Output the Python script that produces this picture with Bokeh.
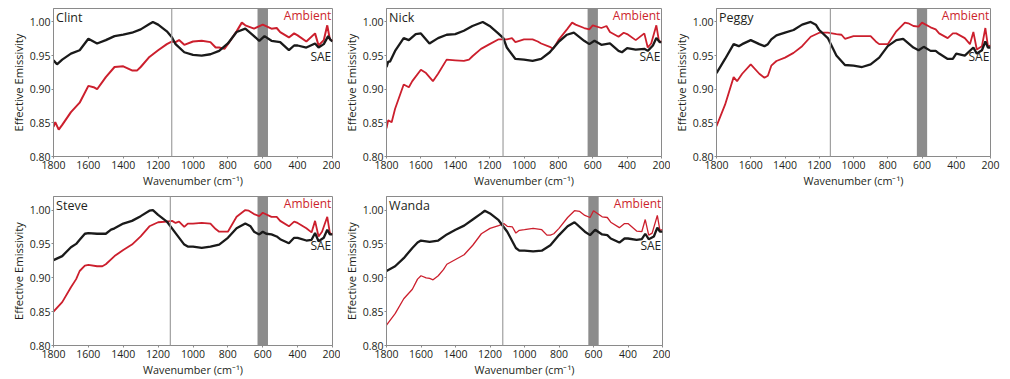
from bokeh.plotting import figure
from bokeh.layouts import column, row
from bokeh.models import Range1d, FixedTicker, NumeralTickFormatter, Span, Label
from bokeh.embed import file_html
from bokeh.resources import INLINE

NAMES = ["Clint", "Nick", "Peggy", "Steve", "Wanda"]
X_TICKS = [1800, 1600, 1400, 1200, 1000, 800, 600, 400, 200]
Y_TICKS = [0.80, 0.85, 0.90, 0.95, 1.00]
BAND = [570, 630]
VLINE = [1122, 1122, 1135, 1130, 1126]

clint_sae_wn = [1800,1780,1750,1700,1650,1600,1550,1500,1450,1400,1350,1300,1250,1230,1200,1150,1120,1100,1050,1000,950,900,850,800,750,700,650,620,590,550,500,450,420,400,350,300,280,250,225,210,200]
clint_sae = [0.943,0.937,0.944,0.953,0.958,0.975,0.968,0.973,0.979,0.981,0.984,0.989,0.997,1.000,0.996,0.986,0.977,0.967,0.955,0.951,0.950,0.952,0.957,0.968,0.985,0.990,0.979,0.972,0.979,0.972,0.970,0.958,0.965,0.965,0.962,0.968,0.962,0.967,0.979,0.973,0.971]
clint_amb_wn = [1800,1790,1770,1750,1700,1650,1600,1570,1550,1500,1450,1400,1350,1320,1300,1250,1200,1150,1120,1100,1080,1050,1000,950,900,870,850,820,800,750,720,700,650,600,550,520,500,450,420,400,350,300,280,250,230,215,200]
clint_amb = [0.844,0.851,0.840,0.847,0.866,0.880,0.905,0.903,0.900,0.918,0.933,0.934,0.928,0.928,0.933,0.948,0.958,0.967,0.971,0.970,0.973,0.966,0.971,0.972,0.970,0.962,0.962,0.960,0.967,0.986,0.999,0.995,0.990,0.996,0.990,0.991,0.985,0.977,0.983,0.980,0.971,0.983,0.965,0.973,0.995,0.974,0.972]

nick_sae_wn = [1800,1790,1780,1750,1700,1670,1630,1600,1550,1500,1450,1400,1350,1300,1240,1200,1150,1120,1100,1050,1000,950,900,850,800,750,710,650,620,590,550,500,450,430,400,350,300,280,250,230,210,200]
nick_sae = [0.933,0.941,0.941,0.957,0.976,0.973,0.982,0.983,0.968,0.976,0.981,0.982,0.987,0.994,1.000,0.994,0.983,0.976,0.962,0.945,0.944,0.942,0.945,0.955,0.970,0.981,0.984,0.972,0.967,0.972,0.966,0.968,0.957,0.955,0.961,0.959,0.960,0.957,0.965,0.976,0.970,0.970]
nick_amb_wn = [1800,1790,1770,1750,1700,1670,1650,1600,1570,1530,1500,1450,1400,1350,1320,1300,1250,1200,1150,1100,1070,1050,1000,950,920,900,850,830,800,750,720,700,650,620,600,550,520,500,450,420,400,350,300,280,260,230,215,200]
nick_amb = [0.842,0.854,0.851,0.871,0.907,0.903,0.912,0.929,0.924,0.912,0.923,0.944,0.943,0.942,0.944,0.949,0.960,0.967,0.974,0.974,0.976,0.970,0.974,0.974,0.971,0.968,0.963,0.960,0.973,0.989,0.999,0.996,0.991,0.989,0.995,0.991,0.994,0.985,0.978,0.984,0.982,0.973,0.983,0.962,0.968,0.995,0.972,0.970]

peggy_sae_wn = [1800,1750,1700,1670,1650,1600,1550,1520,1500,1480,1450,1400,1350,1300,1250,1220,1200,1150,1100,1050,1000,950,900,850,800,750,710,650,620,590,550,520,500,450,420,400,350,300,280,250,230,215,200]
peggy_sae = [0.924,0.945,0.967,0.964,0.967,0.973,0.967,0.964,0.967,0.974,0.980,0.984,0.988,0.996,1.000,0.996,0.988,0.976,0.950,0.936,0.935,0.933,0.937,0.947,0.964,0.973,0.975,0.962,0.958,0.963,0.957,0.957,0.953,0.945,0.945,0.953,0.950,0.962,0.953,0.958,0.971,0.962,0.962]
peggy_amb_wn = [1800,1750,1700,1680,1650,1600,1550,1520,1500,1480,1450,1400,1350,1300,1250,1200,1150,1100,1070,1050,1000,950,900,870,850,800,750,700,680,650,620,600,550,520,500,450,420,400,350,320,300,280,250,230,215,200]
peggy_amb = [0.845,0.877,0.918,0.912,0.923,0.937,0.923,0.917,0.920,0.935,0.942,0.947,0.954,0.964,0.978,0.984,0.984,0.982,0.981,0.975,0.979,0.979,0.979,0.971,0.967,0.967,0.986,0.999,0.998,0.994,0.993,0.999,0.992,0.989,0.983,0.976,0.983,0.983,0.976,0.967,0.985,0.959,0.964,0.991,0.964,0.965]

steve_sae_wn = [1800,1750,1700,1670,1650,1620,1600,1550,1500,1470,1450,1400,1350,1300,1250,1230,1200,1150,1100,1050,1030,1000,950,900,850,800,750,700,670,650,620,600,580,550,520,500,450,420,400,350,320,300,280,250,230,215,200]
steve_sae = [0.926,0.932,0.945,0.950,0.956,0.965,0.966,0.965,0.965,0.971,0.973,0.980,0.984,0.991,0.999,1.000,0.993,0.983,0.966,0.949,0.946,0.946,0.944,0.946,0.949,0.959,0.973,0.980,0.976,0.968,0.964,0.968,0.965,0.964,0.961,0.957,0.951,0.959,0.959,0.955,0.956,0.966,0.954,0.959,0.971,0.964,0.964]
steve_amb_wn = [1800,1750,1700,1670,1650,1620,1600,1550,1520,1500,1450,1400,1350,1300,1250,1200,1150,1120,1100,1080,1050,1030,1000,950,900,870,850,800,750,700,680,650,620,600,550,520,500,450,420,400,350,320,300,280,260,230,215,200]
steve_amb = [0.850,0.864,0.886,0.898,0.910,0.918,0.919,0.917,0.917,0.920,0.932,0.941,0.949,0.961,0.976,0.982,0.983,0.984,0.981,0.983,0.975,0.980,0.980,0.981,0.980,0.972,0.968,0.968,0.990,1.000,0.999,0.994,0.991,0.996,0.990,0.990,0.984,0.976,0.983,0.981,0.973,0.967,0.984,0.961,0.968,0.990,0.966,0.964]

wanda_sae_wn = [1800,1750,1700,1650,1620,1600,1550,1500,1450,1400,1350,1300,1250,1230,1200,1150,1100,1050,1030,1000,950,900,850,800,750,710,650,620,590,550,520,500,450,420,400,350,320,300,280,250,230,215,200]
wanda_sae = [0.910,0.917,0.929,0.944,0.952,0.955,0.953,0.955,0.964,0.971,0.977,0.986,0.995,0.999,0.995,0.985,0.968,0.944,0.940,0.940,0.939,0.940,0.948,0.963,0.976,0.982,0.968,0.963,0.971,0.964,0.963,0.958,0.952,0.958,0.958,0.956,0.957,0.965,0.957,0.961,0.974,0.968,0.968]
wanda_amb_wn = [1800,1750,1700,1650,1620,1600,1570,1550,1530,1500,1470,1450,1400,1350,1300,1250,1200,1150,1120,1100,1070,1050,1030,1000,950,900,870,850,830,800,750,710,680,650,620,600,550,520,500,450,420,400,350,320,300,280,260,230,215,200]
wanda_amb = [0.830,0.847,0.869,0.883,0.898,0.903,0.900,0.899,0.897,0.903,0.912,0.920,0.927,0.934,0.948,0.965,0.973,0.977,0.980,0.976,0.975,0.966,0.970,0.971,0.973,0.971,0.963,0.963,0.965,0.973,0.989,0.999,0.998,0.992,0.989,0.999,0.990,0.989,0.982,0.974,0.980,0.980,0.969,0.968,0.986,0.963,0.966,0.992,0.970,0.971]

SAE = [(clint_sae_wn, clint_sae), (nick_sae_wn, nick_sae), (peggy_sae_wn, peggy_sae),
       (steve_sae_wn, steve_sae), (wanda_sae_wn, wanda_sae)]
AMB = [(clint_amb_wn, clint_amb), (nick_amb_wn, nick_amb), (peggy_amb_wn, peggy_amb),
       (steve_amb_wn, steve_amb), (wanda_amb_wn, wanda_amb)]
AMB_WIDTH = [2.0, 1.8, 1.8, 1.8, 1.3]

FONT = "Open Sans"
RED = "#cc1f2d"
TXT = "#231f20"

# (width, height, left, right, top, bottom)
SIZES = [
    (340, 190, 53, 8, 7, 31),
    (330, 190, 42, 9, 7, 31),
    (330, 190, 42, 10, 8, 30),
    (340, 189, 53, 8, 6, 30),
    (330, 189, 42, 8, 6, 30),
]


def make_panel(i):
    w, h, bl, br, bt, bb = SIZES[i]
    p = figure(width=w, height=h, output_backend="svg", toolbar_location=None,
               x_range=Range1d(1800, 200), y_range=Range1d(0.80, 1.02),
               min_border_left=bl, min_border_right=br, min_border_top=bt,
               min_border_bottom=bb)
    p.xgrid.visible = False
    p.ygrid.visible = False
    p.outline_line_color = "#8a8a8a"
    p.outline_line_width = 1
    p.background_fill_color = "white"
    p.border_fill_color = "white"

    p.quad(left=BAND[0], right=BAND[1], bottom=0.80, top=1.02,
           fill_color="#8c8c8c", line_color=None)
    p.add_layout(Span(location=VLINE[i], dimension="height",
                      line_color="#a0a0a0", line_width=1.2))

    awn, av = AMB[i]
    swn, sv = SAE[i]
    p.line(awn, av, line_color=RED, line_width=AMB_WIDTH[i])
    p.line(swn, sv, line_color="#1a1a1a", line_width=2.3)

    for ax in (p.xaxis[0], p.yaxis[0]):
        ax.axis_line_color = "#8a8a8a"
        ax.major_tick_line_color = "#8a8a8a"
        ax.major_tick_out = 2
        ax.major_tick_in = 0
        ax.minor_tick_line_color = None
        ax.major_label_text_font = FONT
        ax.major_label_text_font_size = "10.5px"
        ax.major_label_text_color = TXT
        ax.axis_label_text_font = FONT
        ax.axis_label_text_font_size = "10.8px"
        ax.axis_label_text_font_style = "normal"
        ax.axis_label_text_color = TXT
        ax.major_label_standoff = 2
        ax.axis_label_standoff = 2

    p.yaxis.major_label_standoff = 1
    p.yaxis.axis_label_standoff = 1
    p.yaxis.axis_label_text_font_size = "11.2px"
    p.xaxis.axis_label_standoff = 1
    p.xaxis.ticker = FixedTicker(ticks=X_TICKS)
    p.yaxis.ticker = FixedTicker(ticks=Y_TICKS)
    p.yaxis.formatter = NumeralTickFormatter(format="0.00")
    p.xaxis.axis_label = "Wavenumber (cm\u207b\u00b9)"
    p.yaxis.axis_label = "Effective Emissivity"

    p.add_layout(Label(x=1785, y=1.006, text=NAMES[i], text_font=FONT,
                       text_font_size="12.5px", text_color=TXT,
                       text_baseline="middle", text_align="left"))
    p.add_layout(Label(x=207, y=1.009, text="Ambient", text_font=FONT,
                       text_font_size="12px", text_color=RED,
                       text_baseline="middle", text_align="right"))
    p.add_layout(Label(x=207, y=0.948, text="SAE", text_font=FONT,
                       text_font_size="12px", text_color=TXT,
                       text_baseline="middle", text_align="right"))
    return p


panels = [make_panel(i) for i in range(5)]
layout = column(row(panels[0], panels[1], panels[2]),
                row(panels[3], panels[4]))

open("out.html", "w").write(file_html(layout, INLINE))
